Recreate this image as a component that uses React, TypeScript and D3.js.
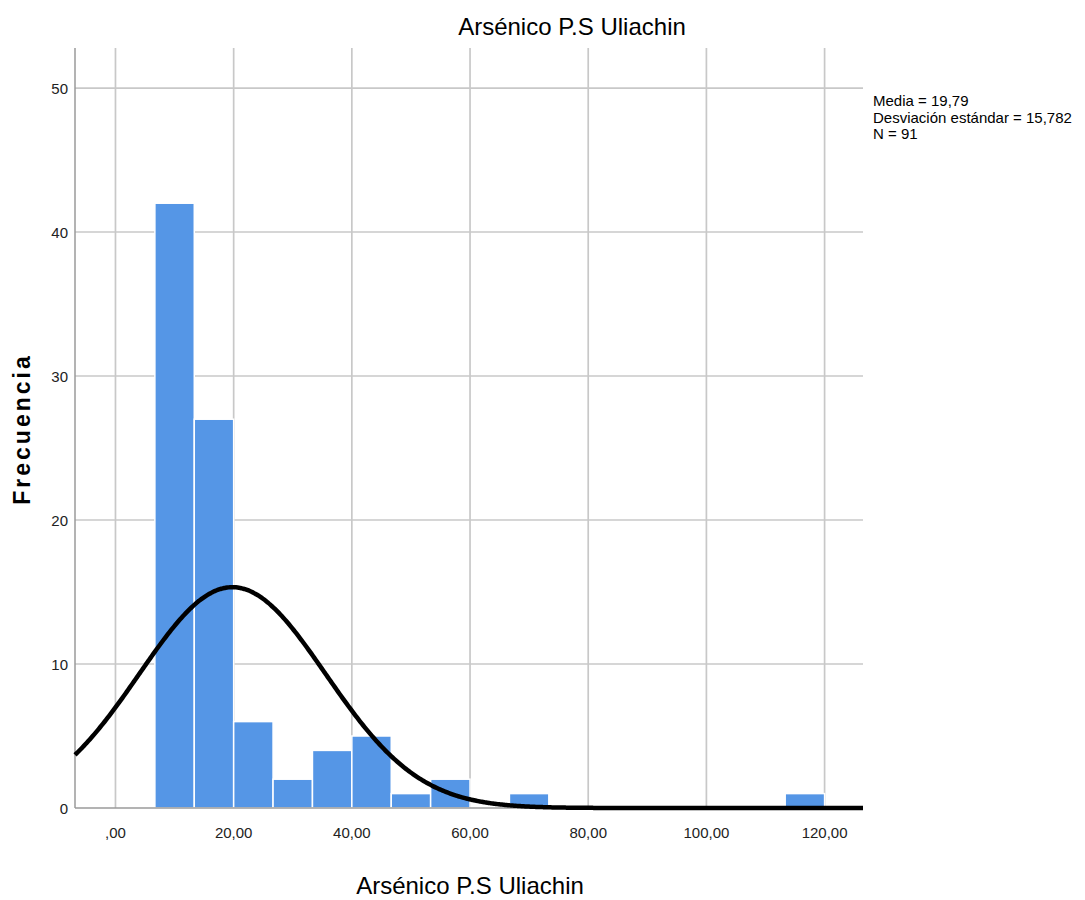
import React from 'react';
import * as d3 from 'd3';

// histogram bins (bin width 20/3) and counts
const binStarts = [6.667, 13.333, 20, 26.667, 33.333, 40, 46.667, 53.333, 66.667, 113.333];
const binCounts = [42, 27, 6, 2, 4, 5, 1, 2, 1, 1];
const binWidth = 20 / 3;
const xTicks = [0, 20, 40, 60, 80, 100, 120];
const xTickLabels = [',00', '20,00', '40,00', '60,00', '80,00', '100,00', '120,00'];
const yTicks = [0, 10, 20, 30, 40, 50];
const statsLines = ['Media = 19,79', 'Desviación estándar = 15,782', 'N = 91'];
const mean = 19.79;
const sd = 15.782;
const n = 91;

const narrow = '"Liberation Sans Narrow", "Arial Narrow", "Liberation Sans", Arial, sans-serif';

const App = () => {
  const width = 1085, height = 900;
  const left = 75, right = 863, top = 48, bottom = 808;

  const xScale = d3.scaleLinear().domain([-6.85, 126.5]).range([left, right]);
  const yScale = d3.scaleLinear().domain([0, 52.78]).range([bottom, top]);

  // fitted normal curve, scaled to the histogram counts
  const curveXs = d3.range(-6.85, 126.5, 0.25).concat([126.5]);
  const k = n * binWidth / (sd * Math.sqrt(2 * Math.PI));
  const curve = curveXs.map(x => [x, k * Math.exp(-0.5 * ((x - mean) / sd) ** 2)]);
  const line = d3.line().x(d => xScale(d[0])).y(d => yScale(d[1])).curve(d3.curveBasis);

  return (<svg width={width} height={height} style={{ position: 'absolute', left: 0, top: 0, background: '#fff' }}>
    <text x={572} y={35} textAnchor="middle" fontFamily={narrow} fontSize="24" fill="#000">Arsénico P.S Uliachin</text>

    <g id="grid" stroke="#c8c8c8" strokeWidth="1.7">
      {xTicks.map((t, i) => <line key={'v' + i} x1={xScale(t)} x2={xScale(t)} y1={top} y2={bottom} />)}
      {yTicks.filter(t => t > 0).map((t, i) => <line key={'h' + i} x1={left} x2={right} y1={yScale(t)} y2={yScale(t)} />)}
    </g>

    <g id="bars">
      {binStarts.map((s, i) => {
        const x0 = xScale(s), x1 = xScale(s + binWidth);
        const y = yScale(binCounts[i]);
        return <rect key={i} x={x0} y={y} width={x1 - x0} height={bottom - y}
          fill="#5596e6" stroke="#ffffff" strokeWidth="1.5" />;
      })}
    </g>

    <g id="axes" stroke="#9a9a9a" strokeWidth="1.5">
      <line x1={left} x2={left} y1={top} y2={bottom} />
      <line x1={left} x2={right} y1={bottom} y2={bottom} />
    </g>

    <path d={line(curve) || ''} fill="none" stroke="#000" strokeWidth="4.5" />

    <g id="yAxis" fontFamily={narrow} fontSize="15" textAnchor="end" fill="#222">
      {yTicks.map((t, i) => <text key={i} x={68} y={yScale(t) + 6}>{t}</text>)}
    </g>
    <g id="xAxis" fontFamily={narrow} fontSize="15" textAnchor="middle" fill="#222">
      {xTicks.map((t, i) => <text key={i} x={xScale(t)} y={838}>{xTickLabels[i]}</text>)}
    </g>

    <text x={470} y={894} textAnchor="middle" fontFamily={narrow} fontSize="24" fill="#000">Arsénico P.S Uliachin</text>
    <text transform="translate(30, 429) rotate(-90)" textAnchor="middle" fontFamily='"Liberation Sans", Arial, sans-serif'
      fontSize="23" fontWeight="bold" letterSpacing="3" fill="#000">Frecuencia</text>

    <g id="stats" fontFamily={narrow} fontSize="15" fill="#000">
      {statsLines.map((s, i) => <text key={i} x={873} y={106 + i * 16.5}>{s}</text>)}
    </g>
  </svg>);
};

export default App;
